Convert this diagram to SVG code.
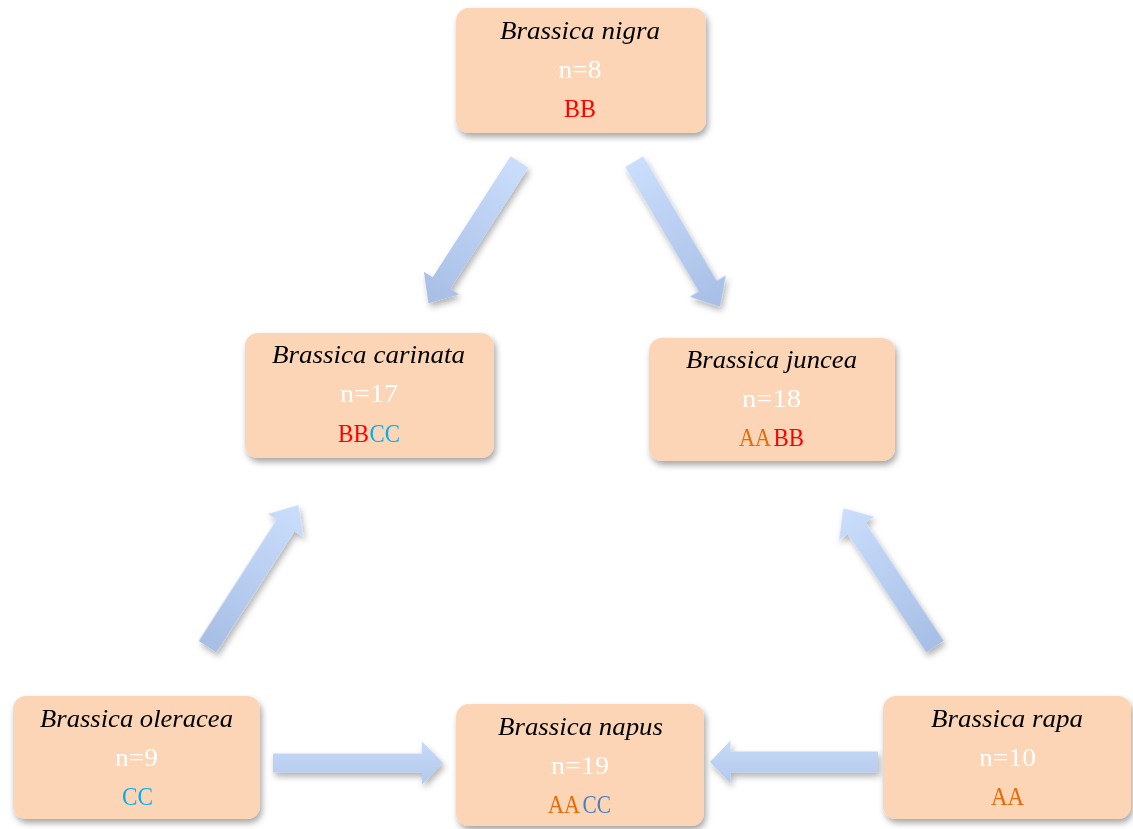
<svg xmlns="http://www.w3.org/2000/svg" width="1133" height="829" viewBox="0 0 1133 829">
<defs>
<filter id="sh" x="-20%" y="-20%" width="140%" height="150%">
<feDropShadow dx="2" dy="4" stdDeviation="3" flood-color="#000" flood-opacity="0.35"/>
</filter>
<filter id="ash" x="-20%" y="-20%" width="140%" height="140%">
<feDropShadow dx="2" dy="4" stdDeviation="3" flood-color="#000" flood-opacity="0.3"/>
</filter>
<linearGradient id="gdown" x1="0" y1="0" x2="1" y2="0">
<stop offset="0" stop-color="#CADEFC"/>
<stop offset="1" stop-color="#A7BEE5"/>
</linearGradient>
<linearGradient id="gup" x1="0" y1="0" x2="1" y2="0">
<stop offset="0" stop-color="#A7BEE5"/>
<stop offset="1" stop-color="#CADEFC"/>
</linearGradient>
<linearGradient id="gh" x1="0" y1="0" x2="0" y2="1">
<stop offset="0" stop-color="#C6DAF8"/>
<stop offset="1" stop-color="#B3C9EC"/>
</linearGradient>
<linearGradient id="gh2" x1="0" y1="1" x2="0" y2="0">
<stop offset="0" stop-color="#C6DAF8"/>
<stop offset="1" stop-color="#B3C9EC"/>
</linearGradient>
</defs>
<style>
.box{fill:#FBD5B5;filter:url(#sh);}
.t{font-family:"Liberation Serif","DejaVu Serif",serif;font-size:26px;text-anchor:middle;}
.s{font-family:"Liberation Serif","DejaVu Serif",serif;font-size:26px;text-anchor:start;}
.title{font-style:italic;fill:#000;}
.n{fill:#FFFFFF;}
.B{fill:#FF0000;}
.C{fill:#00B0F0;}
.C2{fill:#4A7EC4;}
.A{fill:#E36C09;}
</style>
<rect width="1133" height="829" fill="#FFFFFF"/>
<g id="connectors" filter="url(#ash)">
<path transform="translate(519.5,162) rotate(122.8)" d="M0,-10.5 H144 V-21 L168,0 L144,21 V10.5 H0 Z" fill="url(#gdown)"/>
<path transform="translate(634.2,161.7) rotate(59.4)" d="M0,-10.5 H144.5 V-21 L168.5,0 L144.5,21 V10.5 H0 Z" fill="url(#gdown)"/>
<path transform="translate(207.5,646.7) rotate(-57.3)" d="M0,-10.5 H144.3 V-21 L168.3,0 L144.3,21 V10.5 H0 Z" fill="url(#gup)"/>
<path transform="translate(935,646.7) rotate(-123.5)" d="M0,-10.5 H142 V-21 L166,0 L142,21 V10.5 H0 Z" fill="url(#gup)"/>
<path transform="translate(273,763)" d="M0,-9.5 H149 V-21.5 L170,0 L149,21.5 V9.5 H0 Z" fill="url(#gh)"/>
<path transform="translate(878,762) rotate(180)" d="M0,-10.5 H147.5 V-21.5 L168,0 L147.5,21.5 V10.5 H0 Z" fill="url(#gh2)"/>
</g>
<g id="nigra">
<rect class="box" x="456" y="8" width="250" height="125" rx="13"/>
<text class="t title" x="580" y="39" textLength="160" lengthAdjust="spacingAndGlyphs">Brassica nigra</text>
<text class="t n" x="580" y="78" textLength="43" lengthAdjust="spacingAndGlyphs">n=8</text>
<text class="t B" x="580" y="117" textLength="32" lengthAdjust="spacingAndGlyphs">BB</text>
</g>
<g id="carinata">
<rect class="box" x="245" y="333" width="249" height="125" rx="13"/>
<text class="t title" x="368.5" y="363" textLength="193" lengthAdjust="spacingAndGlyphs">Brassica carinata</text>
<text class="t n" x="369" y="402" textLength="58" lengthAdjust="spacingAndGlyphs">n=17</text>
<text class="s B" x="338" y="442" textLength="31" lengthAdjust="spacingAndGlyphs">BB</text>
<text class="s C" x="369.5" y="442" textLength="30.5" lengthAdjust="spacingAndGlyphs">CC</text>
</g>
<g id="juncea">
<rect class="box" x="649" y="338" width="246" height="123" rx="13"/>
<text class="t title" x="771.5" y="368" textLength="171" lengthAdjust="spacingAndGlyphs">Brassica juncea</text>
<text class="t n" x="771.5" y="407" textLength="59" lengthAdjust="spacingAndGlyphs">n=18</text>
<text class="s A" x="739" y="446" textLength="32" lengthAdjust="spacingAndGlyphs">AA</text>
<text class="s B" x="773.5" y="446" textLength="30.5" lengthAdjust="spacingAndGlyphs">BB</text>
</g>
<g id="oleracea">
<rect class="box" x="13" y="696" width="247" height="123" rx="13"/>
<text class="t title" x="136.5" y="727" textLength="193" lengthAdjust="spacingAndGlyphs">Brassica oleracea</text>
<text class="t n" x="136.5" y="766" textLength="43" lengthAdjust="spacingAndGlyphs">n=9</text>
<text class="t C" x="137.5" y="805" textLength="31" lengthAdjust="spacingAndGlyphs">CC</text>
</g>
<g id="napus">
<rect class="box" x="456" y="704" width="248" height="122" rx="13"/>
<text class="t title" x="580.5" y="735" textLength="165" lengthAdjust="spacingAndGlyphs">Brassica napus</text>
<text class="t n" x="580" y="774" textLength="58" lengthAdjust="spacingAndGlyphs">n=19</text>
<text class="s A" x="548" y="813" textLength="32" lengthAdjust="spacingAndGlyphs">AA</text>
<text class="s C2" x="582.5" y="813" textLength="28.5" lengthAdjust="spacingAndGlyphs">CC</text>
</g>
<g id="rapa">
<rect class="box" x="883" y="696" width="248" height="123" rx="13"/>
<text class="t title" x="1007" y="727" textLength="152" lengthAdjust="spacingAndGlyphs">Brassica rapa</text>
<text class="t n" x="1007.5" y="766" textLength="57" lengthAdjust="spacingAndGlyphs">n=10</text>
<text class="t A" x="1007.5" y="805" textLength="33" lengthAdjust="spacingAndGlyphs">AA</text>
</g>
</svg>
